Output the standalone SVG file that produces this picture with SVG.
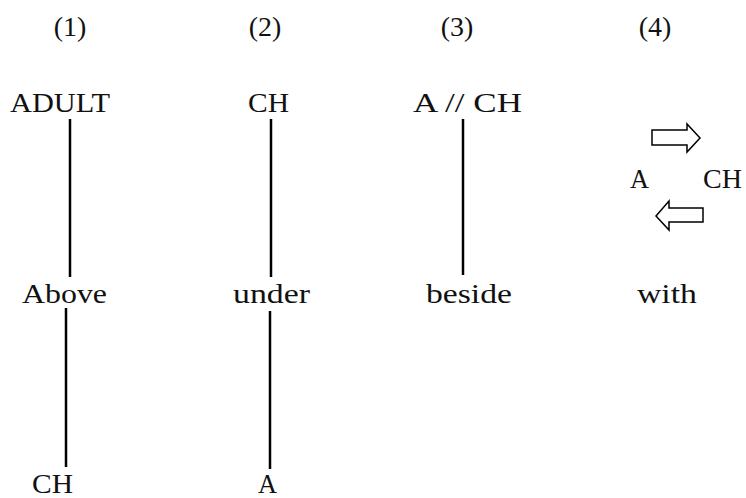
<svg xmlns="http://www.w3.org/2000/svg" width="746" height="498" viewBox="0 0 746 498">
<style>
text { font-family: "Liberation Serif", serif; font-size: 28px; fill: #111; }
.hd { text-anchor: middle; }
.ln { stroke: #000; stroke-width: 2.5; fill: none; }
.ar { fill: #fff; stroke: #000; stroke-width: 1.5; stroke-linejoin: miter; }
</style>
<rect width="746" height="498" fill="#fff"/>
<g id="headers">
<text class="hd" x="70" y="36">(1)</text>
<text class="hd" x="265" y="36">(2)</text>
<text class="hd" x="457" y="36">(3)</text>
<text class="hd" x="655" y="36">(4)</text>
</g>
<g id="n-adult"><text x="10" y="112" textLength="100" lengthAdjust="spacingAndGlyphs">ADULT</text></g>
<g id="n-above"><text x="22" y="303" textLength="85" lengthAdjust="spacingAndGlyphs">Above</text></g>
<g id="n-ch1"><text x="32" y="493" textLength="41" lengthAdjust="spacingAndGlyphs">CH</text></g>
<g id="n-ch2"><text x="248" y="112" textLength="41" lengthAdjust="spacingAndGlyphs">CH</text></g>
<g id="n-under"><text x="233" y="303" textLength="77" lengthAdjust="spacingAndGlyphs">under</text></g>
<g id="n-a2"><text x="258" y="493" textLength="19" lengthAdjust="spacingAndGlyphs">A</text></g>
<g id="n-ach"><text x="413" y="112" textLength="109" lengthAdjust="spacingAndGlyphs">A // CH</text></g>
<g id="n-beside"><text x="426" y="303" textLength="86" lengthAdjust="spacingAndGlyphs">beside</text></g>
<g id="n-a4"><text x="630" y="188" textLength="19" lengthAdjust="spacingAndGlyphs">A</text></g>
<g id="n-ch4"><text x="703" y="188" textLength="39" lengthAdjust="spacingAndGlyphs">CH</text></g>
<g id="n-with"><text x="637" y="303" textLength="60" lengthAdjust="spacingAndGlyphs">with</text></g>
<g id="connectors">
<line class="ln" x1="70" y1="119" x2="70" y2="277"/>
<line class="ln" x1="66" y1="308" x2="66" y2="467"/>
<line class="ln" x1="271" y1="119" x2="271" y2="277"/>
<line class="ln" x1="270" y1="311" x2="270" y2="469"/>
<line class="ln" x1="463" y1="119" x2="463" y2="275"/>
<polygon class="ar" points="652,130 687,130 687,124 700,138 687,152 687,145 652,145"/>
<polygon class="ar" points="703,208 669,208 669,201 656,216 669,230 669,222 703,222"/>
</g>
</svg>
